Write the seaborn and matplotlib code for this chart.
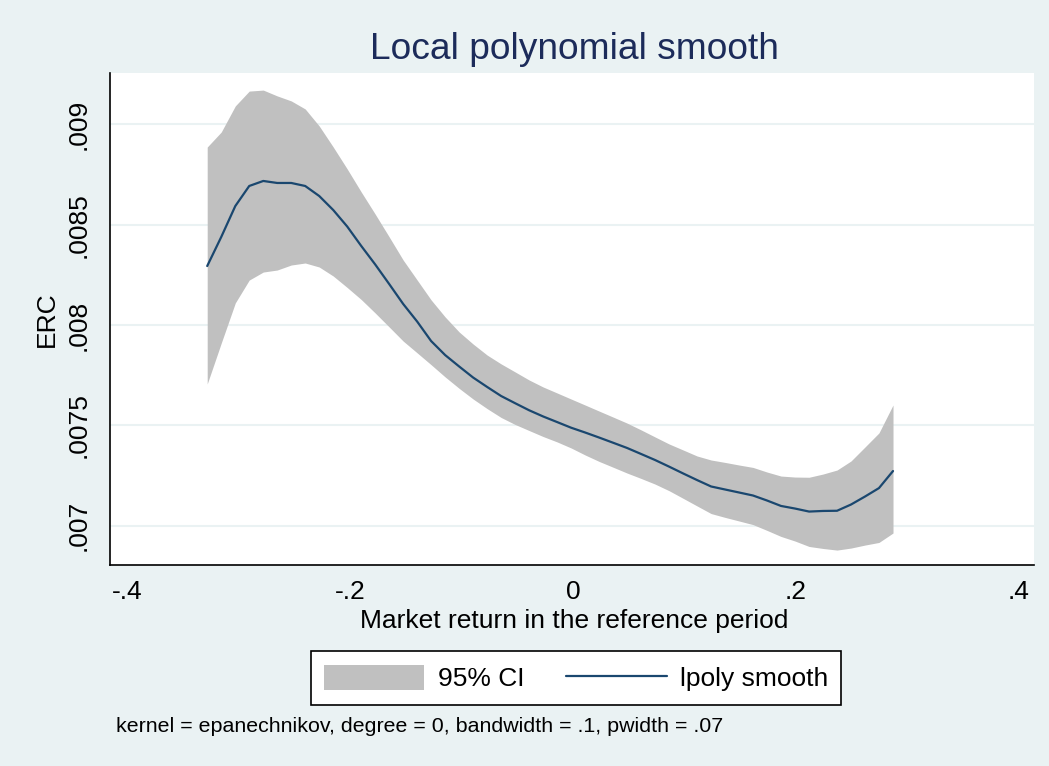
import numpy as np
import pandas as pd
import seaborn as sns
import matplotlib.pyplot as plt
from matplotlib.patches import Patch
from matplotlib.lines import Line2D

# grid of market returns (lpoly evaluation points)
market_return = [-0.3283, -0.3157, -0.3031, -0.2906, -0.2780, -0.2655, -0.2529, -0.2404, -0.2278, -0.2152,
                 -0.2027, -0.1901, -0.1776, -0.1650, -0.1525, -0.1399, -0.1274, -0.1148, -0.1022, -0.0897,
                 -0.0771, -0.0646, -0.0520, -0.0395, -0.0269, -0.0143, -0.0018, 0.0108, 0.0233, 0.0359,
                 0.0484, 0.0610, 0.0735, 0.0861, 0.0987, 0.1112, 0.1238, 0.1363, 0.1489, 0.1614,
                 0.1740, 0.1865, 0.1991, 0.2117, 0.2242, 0.2368, 0.2493, 0.2619, 0.2744, 0.2870]

erc_smooth = [0.008294, 0.008439, 0.008593, 0.008693, 0.008718, 0.008708, 0.008708, 0.008693, 0.008643, 0.008573,
              0.008491, 0.008394, 0.008302, 0.008204, 0.008105, 0.008017, 0.007920, 0.007850, 0.007793, 0.007738,
              0.007691, 0.007646, 0.007610, 0.007575, 0.007544, 0.007516, 0.007488, 0.007464, 0.007439, 0.007413,
              0.007387, 0.007357, 0.007327, 0.007294, 0.007260, 0.007227, 0.007195, 0.007180, 0.007165, 0.007150,
              0.007125, 0.007098, 0.007085, 0.007070, 0.007073, 0.007074, 0.007105, 0.007145, 0.007187, 0.007272]

ci_lower = [0.007706, 0.007910, 0.008110, 0.008224, 0.008264, 0.008274, 0.008299, 0.008309, 0.008289, 0.008244,
            0.008187, 0.008127, 0.008060, 0.007990, 0.007920, 0.007861, 0.007802, 0.007741, 0.007684, 0.007631,
            0.007583, 0.007539, 0.007504, 0.007474, 0.007444, 0.007417, 0.007387, 0.007352, 0.007320, 0.007291,
            0.007262, 0.007235, 0.007207, 0.007174, 0.007136, 0.007098, 0.007060, 0.007041, 0.007023, 0.007005,
            0.006976, 0.006946, 0.006923, 0.006896, 0.006886, 0.006878, 0.006888, 0.006903, 0.006916, 0.006963]

ci_upper = [0.008887, 0.008962, 0.009092, 0.009166, 0.009171, 0.009142, 0.009117, 0.009077, 0.008992, 0.008887,
            0.008778, 0.008663, 0.008553, 0.008439, 0.008324, 0.008224, 0.008125, 0.008040, 0.007965, 0.007905,
            0.007850, 0.007806, 0.007766, 0.007726, 0.007691, 0.007661, 0.007631, 0.007601, 0.007571, 0.007541,
            0.007511, 0.007477, 0.007442, 0.007407, 0.007377, 0.007347, 0.007327, 0.007315, 0.007302, 0.007290,
            0.007267, 0.007247, 0.007242, 0.007241, 0.007257, 0.007277, 0.007322, 0.007392, 0.007462, 0.007601]

x_ticks = [-0.4, -0.2, 0, 0.2, 0.4]
x_labels = ['-.4', '-.2', '0', '.2', '.4']
y_ticks = [0.007, 0.0075, 0.008, 0.0085, 0.009]
y_labels = ['.007', '.0075', '.008', '.0085', '.009']

df = pd.DataFrame({'x': market_return, 'smooth': erc_smooth, 'lo': ci_lower, 'hi': ci_upper})

bg = '#EAF2F3'
band = '#C0C0C0'
navy = '#1A476F'

sns.set_style("white")
plt.rcParams['font.family'] = ['Liberation Sans', 'DejaVu Sans']
plt.rcParams['text.color'] = 'black'
plt.rcParams['xtick.color'] = 'black'
plt.rcParams['ytick.color'] = 'black'
plt.rcParams['axes.labelcolor'] = 'black'

fig = plt.figure(figsize=(10.49, 7.66), dpi=100, facecolor=bg)
ax = fig.add_axes([0.1052, 0.2624, 0.8805, 0.6423])
ax.set_facecolor('white')

ax.fill_between(df.x, df.lo, df.hi, color=band, lw=0, zorder=2)
sns.lineplot(data=df, x='x', y='smooth', color=navy, lw=1.6, ax=ax, zorder=3)

ax.set_xlim(-0.4152, 0.4135)
ax.set_ylim(0.0068036, 0.0092562)
ax.set_xticks(x_ticks)
ax.set_xticklabels(x_labels)
ax.set_yticks(y_ticks)
ax.set_yticklabels(y_labels, rotation=90, va='center')
ax.tick_params(axis='both', labelsize=19, length=7.5, width=1, color='black', direction='out',
               labelcolor='black')
ax.tick_params(axis='y', pad=6.5)
ax.tick_params(axis='x', pad=3)

ax.set_axisbelow(True)
ax.yaxis.grid(True, color=bg, lw=1.5)
ax.xaxis.grid(False)
for s in ['top', 'right']:
    ax.spines[s].set_visible(False)
for s in ['left', 'bottom']:
    ax.spines[s].set_color('black')
    ax.spines[s].set_linewidth(1.2)
ax.set_xlabel('')
ax.set_ylabel('')

fig.text(574 / 1049, 1 - 59 / 766, 'Local polynomial smooth', ha='center', va='baseline',
         fontsize=26.7, color='#1C2B5A')
fig.text(574 / 1049, 1 - 628 / 766, 'Market return in the reference period', ha='center', va='baseline',
         fontsize=19)
fig.text(47 / 1049, 1 - 319 / 766, 'ERC', ha='center', va='center', rotation=90, fontsize=19)

handles = [Patch(facecolor=band, edgecolor='none'), Line2D([0], [0], color=navy, lw=1.6)]
leg = fig.legend(handles, ['95% CI', 'lpoly smooth'], loc='center',
                 bbox_to_anchor=(576 / 1049, 1 - 678 / 766), ncol=2, fontsize=19,
                 frameon=True, fancybox=False, framealpha=1, edgecolor='black',
                 handlelength=3.8, handleheight=1.1, handletextpad=0.5, columnspacing=1.6,
                 borderpad=0.5)
leg.get_frame().set_linewidth(1.2)

fig.text(116 / 1049, 1 - 726 / 766, 'kernel = epanechnikov, degree = 0, bandwidth = .1, pwidth = .07',
         ha='left', va='center', fontsize=15.4)

fig.savefig('out.png', dpi=100, facecolor=bg)
